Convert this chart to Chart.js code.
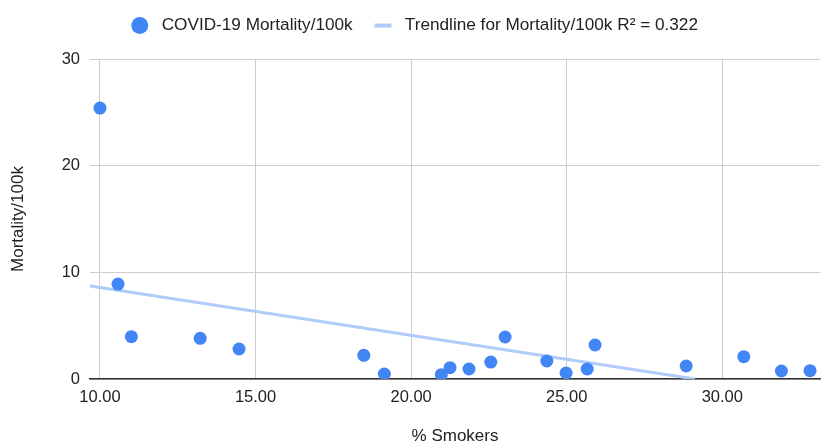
<!DOCTYPE html>
<html>
<head>
    <title>Mortality vs Smokers</title>
    <script src="https://cdn.jsdelivr.net/npm/chart.js@4.4.3/dist/chart.umd.min.js"></script>
    <style>
        body {
            margin: 0;
            background: #fff;
        }
    </style>
</head>
<body>
    <canvas id="chart" width="827" height="448"></canvas>
    <script>
        // values
        const smokers = [10.0, 10.58, 11.01, 13.22, 14.47, 18.48, 19.14, 20.97, 21.25, 21.86,
            22.56, 23.02, 24.36, 24.98, 25.66, 25.91, 28.84, 30.69, 31.90, 32.82]
        const mortality = [25.4, 8.9, 3.97, 3.81, 2.81, 2.22, 0.47, 0.41, 1.06, 0.94,
            1.59, 3.94, 1.69, 0.56, 0.94, 3.19, 1.22, 2.09, 0.75, 0.78]

        // trendline ends as drawn (it is clipped at 0)
        const trendX = [9.68, 29.12]
        const trendY = [8.72, 0]

        const xTicks = [10, 15, 20, 25, 30]
        const yTicks = [0, 10, 20, 30]

        const family = "'Liberation Sans', Arial, sans-serif"
        const tickFont = { family: family, size: 16.5 }
        const titleFont = { family: family, size: 17 }
        const legendFont = { family: family, size: 17.2 }
        const textColor = '#222'

        Chart.defaults.font.family = family
        Chart.defaults.color = textColor

        // keep the legend block as tall as the gap above the plot,
        // and nudge it a little to the right like the original
        const legendBox = {
            id: 'legendBox',
            beforeInit(chart) {
                const fit = chart.legend.fit
                chart.legend.fit = function () {
                    fit.call(this)
                    this.height = 59
                }
            },
            afterLayout(chart) {
                chart.legend.left += 7
                chart.legend.right += 7
            }
        }

        new Chart(document.getElementById('chart'), {
            type: 'scatter',
            data: {
                datasets: [
                    {
                        label: 'COVID-19 Mortality/100k',
                        data: smokers.map((x, i) => ({ x: x, y: mortality[i] })),
                        pointStyle: 'circle',
                        pointRadius: 6.5,
                        pointBorderWidth: 0,
                        backgroundColor: '#4285F4',
                        borderColor: '#4285F4'
                    },
                    {
                        label: 'Trendline for Mortality/100k R² = 0.322',
                        data: trendX.map((x, i) => ({ x: x, y: trendY[i] })),
                        showLine: true,
                        borderColor: '#AECBFA',
                        borderWidth: 3,
                        pointRadius: 0,
                        pointStyle: 'line',
                        pointBorderColor: '#AECBFA',
                        pointBackgroundColor: '#AECBFA',
                        pointBorderWidth: 4
                    }
                ]
            },
            options: {
                responsive: false,
                animation: false,
                layout: {
                    padding: { left: 0, right: 7, top: 0, bottom: 0 }
                },
                plugins: {
                    legend: {
                        position: 'top',
                        labels: {
                            usePointStyle: true,
                            boxHeight: 12,
                            boxWidth: 17,
                            padding: 17,
                            font: legendFont,
                            color: textColor,
                            generateLabels: (chart) => {
                                const items = Chart.defaults.plugins.legend.labels.generateLabels(chart)
                                items.forEach(it => { it.text = ' ' + it.text + ' ' })
                                return items
                            }
                        }
                    },
                    tooltip: { enabled: false }
                },
                scales: {
                    x: {
                        type: 'linear',
                        min: 9.68,
                        max: 33.14,
                        afterBuildTicks: (scale) => {
                            scale.ticks = xTicks.map(v => ({ value: v }))
                        },
                        afterFit: (scale) => {
                            scale.height = 69
                        },
                        ticks: {
                            padding: 9,
                            font: tickFont,
                            color: textColor,
                            maxRotation: 0,
                            callback: (v) => Number(v).toFixed(2)
                        },
                        grid: {
                            color: '#cccccc',
                            drawTicks: false
                        },
                        border: {
                            display: true,
                            color: '#333333',
                            width: 1.5
                        },
                        title: {
                            display: true,
                            text: '% Smokers',
                            font: titleFont,
                            color: textColor,
                            padding: { top: 0, bottom: 1 }
                        }
                    },
                    y: {
                        type: 'linear',
                        min: 0,
                        max: 30,
                        afterBuildTicks: (scale) => {
                            scale.ticks = yTicks.map(v => ({ value: v }))
                        },
                        afterFit: (scale) => {
                            scale.width = 90
                        },
                        ticks: {
                            padding: 10,
                            font: tickFont,
                            color: textColor
                        },
                        grid: {
                            color: '#cccccc',
                            drawTicks: false
                        },
                        border: {
                            display: false
                        },
                        title: {
                            display: true,
                            text: 'Mortality/100k',
                            font: titleFont,
                            color: textColor,
                            padding: { top: 8, bottom: 0 }
                        }
                    }
                }
            },
            plugins: [legendBox]
        })
    </script>
</body>
</html>
